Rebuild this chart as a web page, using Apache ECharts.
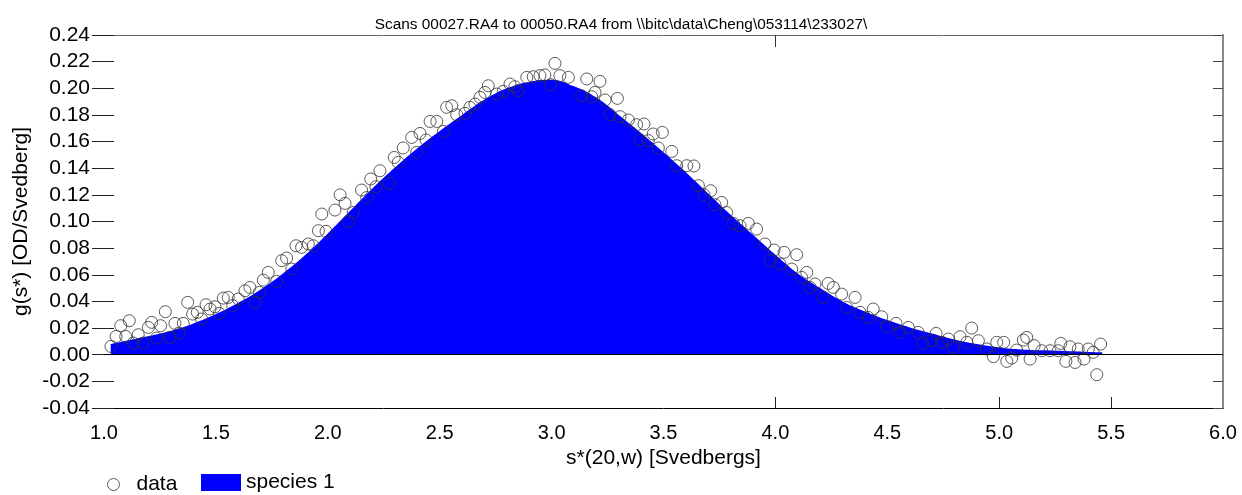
<!DOCTYPE html>
<html>
<head>
<meta charset="utf-8">
<script src="https://cdn.jsdelivr.net/npm/echarts@6/dist/echarts.min.js"></script>
<style>
html,body{margin:0;padding:0;background:#fff;}
#chart{width:1242px;height:495px;}
</style>
</head>
<body>
<div id="chart"></div>
<script>
// Fitted species 1 curve (s*, g(s*))
const fitS = [1.03,1.1,1.2,1.3,1.4,1.5,1.6,1.7,1.8,1.9,2.0,2.1,2.2,2.3,2.4,2.5,2.6,2.7,2.8,2.9,3.0,3.1,3.2,3.3,3.4,3.5,3.6,3.7,3.8,3.9,4.0,4.1,4.2,4.3,4.4,4.5,4.6,4.7,4.8,4.9,5.0,5.1,5.2,5.3,5.4,5.46];
const fitG = [0.008,0.0105,0.014,0.018,0.0235,0.0305,0.039,0.049,0.061,0.075,0.091,0.108,0.125,0.1405,0.155,0.168,0.180,0.1915,0.200,0.205,0.2065,0.2015,0.193,0.180,0.1665,0.152,0.137,0.121,0.105,0.090,0.075,0.061,0.050,0.040,0.0325,0.026,0.0205,0.016,0.0115,0.008,0.0055,0.004,0.0033,0.0027,0.002,0.0018];

// Observed data points
const dataS = [1.031,1.054,1.075,1.097,1.113,1.131,1.153,1.176,1.198,1.213,1.235,1.253,1.274,1.295,1.317,1.335,1.354,1.374,1.396,1.417,1.436,1.456,1.474,1.496,1.515,1.533,1.555,1.575,1.600,1.630,1.652,1.675,1.694,1.712,1.734,1.772,1.794,1.816,1.839,1.858,1.883,1.913,1.935,1.958,1.973,1.992,2.032,2.055,2.077,2.092,2.114,2.151,2.174,2.192,2.215,2.233,2.275,2.297,2.315,2.337,2.375,2.397,2.412,2.439,2.457,2.487,2.516,2.531,2.554,2.576,2.613,2.635,2.658,2.680,2.702,2.717,2.755,2.784,2.814,2.836,2.851,2.889,2.918,2.948,2.970,2.996,3.015,3.037,3.075,3.134,3.157,3.179,3.194,3.216,3.239,3.261,3.294,3.306,3.343,3.380,3.395,3.413,3.432,3.454,3.477,3.495,3.537,3.559,3.604,3.636,3.656,3.681,3.711,3.730,3.760,3.782,3.812,3.842,3.879,3.916,3.953,3.976,3.994,4.020,4.039,4.073,4.095,4.117,4.140,4.155,4.177,4.214,4.236,4.259,4.296,4.318,4.356,4.378,4.415,4.437,4.475,4.497,4.539,4.557,4.594,4.638,4.658,4.698,4.718,4.743,4.773,4.795,4.825,4.855,4.877,4.907,4.944,4.974,4.989,5.020,5.034,5.056,5.078,5.108,5.123,5.138,5.156,5.190,5.227,5.264,5.275,5.298,5.316,5.339,5.353,5.379,5.398,5.420,5.436,5.453];
const dataG = [0.0062,0.0137,0.0218,0.0137,0.0255,0.0088,0.0150,0.0088,0.0205,0.0243,0.0125,0.0218,0.0323,0.0130,0.0235,0.0163,0.0235,0.0393,0.0305,0.0318,0.0268,0.0375,0.0343,0.0360,0.0310,0.0425,0.0430,0.0368,0.0418,0.0480,0.0505,0.0393,0.0468,0.0560,0.0618,0.0550,0.0706,0.0726,0.0643,0.0818,0.0806,0.0831,0.0818,0.0931,0.1056,0.0926,0.1086,0.1200,0.1136,0.1000,0.1068,0.1236,0.1180,0.1319,0.1261,0.1381,0.1286,0.1481,0.1444,0.1552,0.1631,0.1519,0.1661,0.1612,0.1751,0.1751,0.1676,0.1857,0.1869,0.1802,0.1812,0.1857,0.1882,0.1932,0.1969,0.2019,0.1957,0.1977,0.2032,0.2012,0.1982,0.2082,0.2087,0.2095,0.2100,0.2027,0.2187,0.2095,0.2082,0.1944,0.2070,0.1937,0.1969,0.2052,0.1912,0.1802,0.1924,0.1787,0.1762,0.1727,0.1612,0.1732,0.1607,0.1657,0.1552,0.1669,0.1526,0.1419,0.1419,0.1417,0.1269,0.1201,0.1231,0.1126,0.1143,0.1068,0.0986,0.0968,0.0986,0.0943,0.0831,0.0706,0.0786,0.0681,0.0768,0.0643,0.0751,0.0580,0.0618,0.0505,0.0531,0.0430,0.0535,0.0505,0.0455,0.0355,0.0430,0.0318,0.0280,0.0343,0.0285,0.0210,0.0235,0.0168,0.0205,0.0168,0.0085,0.0105,0.0160,0.0093,0.0118,0.0055,0.0135,0.0093,0.0200,0.0105,0.0043,-0.0015,0.0093,0.0093,-0.0050,-0.0025,0.0035,0.0110,0.0130,-0.0033,0.0068,0.0030,0.0030,0.0030,0.0085,-0.0050,0.0060,-0.0058,0.0043,-0.0033,0.0043,0.0018,-0.0150,0.0080];

const xTicks = [1.0,1.5,2.0,2.5,3.0,3.5,4.0,4.5,5.0,5.5,6.0];
const yTicks = [-0.04,-0.02,0.00,0.02,0.04,0.06,0.08,0.10,0.12,0.14,0.16,0.18,0.20,0.22,0.24];

const titleText = 'Scans 00027.RA4 to 00050.RA4 from \\\\bitc\\data\\Cheng\\053114\\233027\\';
const FONT = '"Liberation Sans", Arial, sans-serif';

const fitData = fitS.map((s, i) => [s, fitG[i]]);
const pointData = dataS.map((s, i) => [s, dataG[i]]);

const yBase = {
  type: 'value', min: yTicks[0], max: yTicks[yTicks.length - 1], interval: 0.02,
  splitLine: { show: false }
};

const chart = echarts.init(document.getElementById('chart'), null, { renderer: 'canvas' });
chart.setOption({
  animation: false,
  backgroundColor: '#ffffff',
  title: {
    text: titleText, left: 'center', top: 12,
    textStyle: { fontFamily: FONT, fontSize: 15.4, fontWeight: 'normal', color: '#000' }
  },
  grid: { left: 104, right: 19, top: 35, bottom: 87, containLabel: false },
  legend: [
    {
      left: 102, top: 469, itemWidth: 36, itemHeight: 12, itemGap: 20,
      textStyle: { fontFamily: FONT, fontSize: 21, color: '#000' },
      data: [{ name: 'data', icon: 'circle', itemStyle: { color: 'rgba(0,0,0,0)', borderColor: '#333', borderWidth: 1 } }]
    },
    {
      left: 196, top: 467, itemWidth: 40, itemHeight: 17,
      textStyle: { fontFamily: FONT, fontSize: 21, color: '#000' },
      data: [{ name: 'species 1', icon: 'rect', itemStyle: { color: '#0000ff' } }]
    }
  ],
  xAxis: [
    {
      type: 'value', position: 'bottom', min: 1, max: 6, interval: 0.5,
      name: 's*(20,w) [Svedbergs]', nameLocation: 'middle', nameGap: 40,
      nameTextStyle: { fontFamily: FONT, fontSize: 21, color: '#000' },
      axisLine: { show: true, onZero: false, lineStyle: { color: '#000', width: 1 } },
      axisTick: { show: true, inside: true, length: 11, customValues: [4.0, 5.0, 5.5], lineStyle: { color: '#222' } },
      axisLabel: { fontFamily: FONT, fontSize: 20, color: '#000', margin: 15, formatter: v => v.toFixed(1) },
      splitLine: { show: false }
    },
    {
      type: 'value', position: 'top', min: 1, max: 6, interval: 0.5,
      axisLine: { show: true, onZero: false, lineStyle: { color: '#666', width: 1 } },
      axisTick: { show: true, inside: true, length: 12, customValues: [4.0], lineStyle: { color: '#333' } },
      axisLabel: { show: false },
      splitLine: { show: false }
    }
  ],
  yAxis: [
    Object.assign({}, yBase, {
      position: 'left',
      name: 'g(s*) [OD/Svedberg]', nameLocation: 'middle', nameGap: 70, nameRotate: 90,
      nameTextStyle: { fontFamily: FONT, fontSize: 21, color: '#000' },
      axisLine: { show: false },
      axisTick: { show: true, inside: false, length: 12, lineStyle: { color: '#222' } },
      axisLabel: { fontFamily: FONT, fontSize: 21, color: '#000', margin: 14, formatter: v => v.toFixed(2) }
    }),
    Object.assign({}, yBase, {
      position: 'left',
      axisLine: { show: false },
      axisTick: { show: true, inside: true, length: 10, lineStyle: { color: '#222' } },
      axisLabel: { show: false }
    }),
    Object.assign({}, yBase, {
      position: 'right',
      axisLine: { show: true, onZero: false, lineStyle: { color: '#888', width: 2 } },
      axisTick: { show: true, inside: true, length: 10, lineStyle: { color: '#444' } },
      axisLabel: { show: false }
    })
  ],
  series: [
    {
      name: 'species 1', type: 'line', xAxisIndex: 0, yAxisIndex: 0,
      data: fitData, smooth: 0.4, showSymbol: false, symbol: 'none',
      lineStyle: { width: 0, color: '#0000ff' },
      itemStyle: { color: '#0000ff' },
      areaStyle: { color: '#0000ff', opacity: 1, origin: 0 },
      z: 2,
      markLine: {
        silent: true, symbol: 'none', label: { show: false },
        lineStyle: { color: '#000', width: 1, type: 'solid' },
        data: [{ yAxis: 0 }], z: 5
      }
    },
    {
      name: 'data', type: 'scatter', xAxisIndex: 0, yAxisIndex: 0,
      data: pointData, symbol: 'circle', symbolSize: 12,
      itemStyle: { color: 'rgba(0,0,0,0)', borderColor: '#333', borderWidth: 1 },
      z: 4
    }
  ]
});
</script>
</body>
</html>
